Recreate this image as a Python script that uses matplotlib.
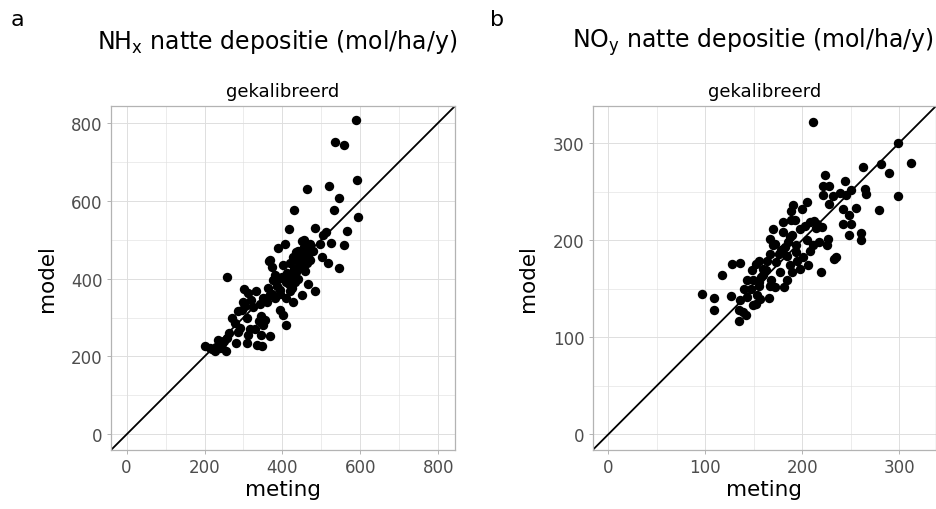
import numpy as np
import matplotlib
matplotlib.use("Agg")
import matplotlib.pyplot as plt
from matplotlib.ticker import MultipleLocator

# Panel a: NHx wet deposition, measured vs model
nhx_meting = [588, 536, 557, 592, 464, 520, 545, 533, 429, 593, 483, 418, 566, 512,
              503, 496, 524, 557, 450, 407, 388, 501, 518, 544, 470, 369, 365, 372,
              259, 401, 428, 436, 445, 462, 466, 376, 393, 410, 423, 436, 419, 465,
              483, 449, 410, 428, 394, 402, 409, 301, 312, 333, 351, 368, 364, 381,
              299, 325, 287, 308, 346, 355, 351, 278, 291, 329, 312, 346, 369, 280,
              308, 334, 348, 257, 235, 244, 201, 214, 226, 255, 239, 455, 460, 448,
              440, 452, 458, 430, 420, 412, 398, 385, 440, 432, 425, 415, 455, 470,
              478, 380, 372, 360, 395, 342, 320, 305, 295, 270, 262, 250, 230, 220,
              440, 430, 455, 462, 416, 395, 340, 318, 285]
nhx_model = [806, 750, 742, 652, 631, 637, 606, 577, 576, 558, 531, 527, 523, 520,
             512, 490, 492, 486, 496, 488, 479, 456, 439, 428, 448, 448, 444, 431,
             403, 435, 456, 469, 435, 473, 460, 397, 401, 392, 409, 418, 367, 386,
             368, 358, 350, 341, 320, 307, 281, 373, 362, 367, 350, 358, 375, 350,
             341, 328, 316, 299, 303, 294, 281, 286, 273, 271, 256, 254, 252, 235,
             235, 230, 228, 247, 243, 232, 226, 223, 213, 215, 222, 480, 465, 455,
             445, 430, 420, 425, 440, 415, 405, 380, 400, 390, 375, 395, 500, 490,
             470, 410, 360, 340, 370, 335, 345, 330, 320, 300, 260, 240, 225, 218,
             470, 452, 445, 440, 385, 360, 290, 270, 262]

# Panel b: NOy wet deposition, measured vs model
noy_meting = [211, 299, 312, 281, 290, 263, 224, 244, 221, 228, 265, 266, 250, 221,
              232, 239, 245, 299, 228, 205, 191, 200, 188, 242, 256, 279, 248, 193,
              188, 180, 208, 215, 220, 242, 250, 170, 180, 198, 248, 261, 261, 227,
              226, 217, 211, 167, 187, 170, 180, 194, 184, 194, 167, 208, 201, 235,
              233, 206, 198, 219, 187, 173, 156, 152, 148, 163, 160, 177, 190, 143,
              149, 156, 168, 167, 172, 181, 184, 155, 128, 136, 117, 140, 153, 152,
              157, 166, 143, 136, 127, 97, 109, 109, 135, 142, 135, 139, 149, 185,
              190, 178, 195, 205, 214, 172, 176, 182, 160, 164, 147, 158, 203, 212]
noy_model = [322, 300, 279, 278, 269, 275, 267, 261, 256, 256, 253, 247, 252, 246,
             245, 248, 246, 245, 237, 239, 236, 232, 230, 232, 233, 231, 226, 221,
             221, 219, 219, 217, 213, 217, 217, 211, 208, 211, 205, 207, 200, 201,
             195, 198, 195, 201, 203, 195, 191, 195, 184, 188, 186, 189, 183, 183,
             181, 174, 170, 167, 174, 177, 179, 175, 169, 169, 164, 167, 167, 159,
             159, 157, 159, 153, 152, 152, 159, 153, 175, 176, 164, 150, 143, 134,
             139, 140, 141, 138, 142, 145, 140, 128, 128, 123, 117, 126, 133, 198,
             205, 190, 178, 200, 212, 196, 186, 193, 170, 178, 150, 162, 215, 220]

GRID = "#DEDEDE"
BORDER = "#B3B3B3"
TICKTXT = "#4D4D4D"

fig = plt.figure(figsize=(9.36, 5.10), dpi=100)


def draw_panel(rect, meting, model, lim, major, title, title_x, letter, letter_x):
    ax = fig.add_axes(rect)
    ax.scatter(meting, model, s=46, color="black", linewidths=0, zorder=3)
    ax.axline((0, 0), slope=1, color="black", lw=1.3, zorder=2)
    ax.set_xlim(lim)
    ax.set_ylim(lim)
    ax.xaxis.set_major_locator(MultipleLocator(major))
    ax.yaxis.set_major_locator(MultipleLocator(major))
    ax.xaxis.set_minor_locator(MultipleLocator(major / 2))
    ax.yaxis.set_minor_locator(MultipleLocator(major / 2))
    ax.grid(which="major", color=GRID, lw=0.7, zorder=0)
    ax.grid(which="minor", color=GRID, lw=0.4, zorder=0)
    ax.set_axisbelow(True)
    for sp in ax.spines.values():
        sp.set_color(BORDER)
        sp.set_linewidth(0.9)
    ax.tick_params(which="major", length=3, width=0.7, color=BORDER,
                   labelcolor=TICKTXT, labelsize=12, pad=3)
    ax.tick_params(which="minor", length=0)
    ax.set_xlabel("meting", fontsize=15.5, va="center")
    ax.set_ylabel("model", fontsize=15.5, va="center")
    ax.xaxis.set_label_coords(0.5, -0.113)
    ax.yaxis.set_label_coords(-0.187, 0.5)
    ax.set_title("gekalibreerd", fontsize=13, pad=7)
    fig.text(title_x, 0.918, title, fontsize=17, ha="center", va="center")
    fig.text(letter_x, 0.96, letter, fontsize=16, ha="left", va="center")
    return ax


draw_panel([0.1186, 0.1157, 0.3675, 0.6745], nhx_meting, nhx_model,
           (-40, 843), 200, r"NH$_\mathregular{x}$ natte depositie (mol/ha/y)",
           0.296, "a", 0.011)
draw_panel([0.6332, 0.1157, 0.3668, 0.6745], noy_meting, noy_model,
           (-16, 338), 100, r"NO$_\mathregular{y}$ natte depositie (mol/ha/y)",
           0.805, "b", 0.524)

fig.savefig("out.png", dpi=100)
